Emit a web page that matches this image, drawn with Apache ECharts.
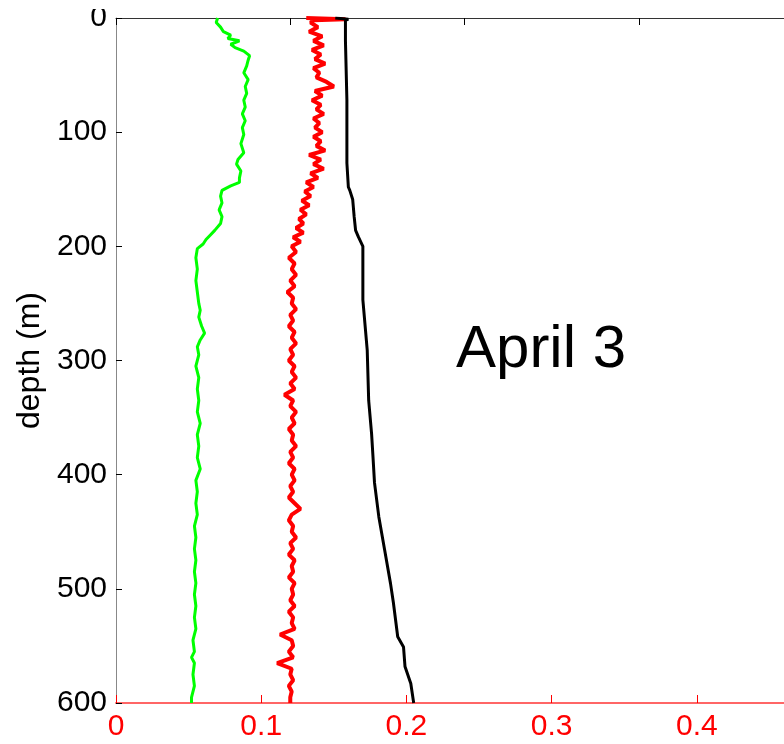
<!DOCTYPE html>
<html>
<head>
<meta charset="utf-8">
<script src="https://cdn.jsdelivr.net/npm/echarts@6/dist/echarts.min.js"></script>
<style>
html,body{margin:0;padding:0;background:#fff;}
#chart{width:784px;height:744px;}
</style>
</head>
<body>
<div id="chart"></div>
<script>
// Depth axis ticks
const depthTicks = [0, 100, 200, 300, 400, 500, 600];
const xTicks = [0, 0.1, 0.2, 0.3, 0.4];

// Green profile
const greenDepth = [0,4,8,12,15,18,20,23,26,29,33,37,42,48,54,60,66,72,78,84,90,96,102,110,118,124,128,134,140,144,147,151,156,162,168,174,180,186,190,194,198,202,210,220,230,240,250,256,262,270,276,282,288,295,305,315,325,335,345,355,365,375,385,395,405,415,425,435,445,455,465,475,485,495,505,515,525,535,545,555,560,565,575,585,595,600];
const greenVal = [0.070,0.069,0.072,0.074,0.079,0.077,0.085,0.079,0.082,0.088,0.092,0.091,0.090,0.088,0.091,0.089,0.090,0.088,0.089,0.087,0.089,0.087,0.088,0.086,0.088,0.084,0.083,0.086,0.085,0.085,0.079,0.073,0.072,0.073,0.071,0.073,0.072,0.068,0.065,0.062,0.060,0.056,0.055,0.056,0.055,0.056,0.057,0.058,0.057,0.059,0.061,0.058,0.056,0.057,0.055,0.057,0.056,0.057,0.056,0.058,0.056,0.057,0.056,0.058,0.055,0.056,0.055,0.056,0.054,0.055,0.054,0.055,0.054,0.055,0.054,0.055,0.054,0.055,0.053,0.054,0.052,0.054,0.053,0.054,0.052,0.052];

// Red profile
const redDepth = [0,1,2,4,8,12,16,20,24,28,32,36,40,44,48,52,56,60,64,68,72,76,80,84,88,92,96,100,104,108,112,116,120,124,128,132,136,140,144,148,152,156,160,164,168,172,176,180,184,188,192,196,200,
205,210,215,220,225,230,235,240,245,250,255,260,265,270,275,280,285,290,295,300,305,310,315,320,325,330,335,340,345,350,355,360,365,370,375,380,385,390,395,400,405,410,415,420,425,430,435,440,445,450,455,460,465,470,475,480,485,490,495,500,505,510,515,520,525,530,535,540,545,550,555,560,565,570,575,580,585,590,595,600];
const redVal = [0.131,0.158,0.136,0.134,0.139,0.133,0.142,0.136,0.143,0.135,0.141,0.137,0.144,0.136,0.140,0.138,0.145,0.150,0.137,0.142,0.135,0.141,0.138,0.143,0.136,0.140,0.137,0.142,0.136,0.141,0.138,0.144,0.133,0.141,0.136,0.143,0.134,0.139,0.131,0.136,0.130,0.134,0.128,0.133,0.127,0.131,0.126,0.129,0.124,0.129,0.122,0.127,0.121,
0.124,0.119,0.123,0.121,0.124,0.120,0.123,0.118,0.122,0.121,0.124,0.120,0.122,0.119,0.123,0.121,0.124,0.120,0.122,0.119,0.123,0.121,0.124,0.120,0.123,0.116,0.122,0.120,0.124,0.121,0.123,0.119,0.122,0.121,0.124,0.120,0.122,0.119,0.123,0.121,0.123,0.120,0.122,0.119,0.123,0.127,0.121,0.119,0.122,0.121,0.124,0.120,0.122,0.119,0.123,0.121,0.122,0.119,0.123,0.121,0.122,0.120,0.123,0.119,0.122,0.121,0.123,0.113,0.121,0.122,0.119,0.122,0.111,0.121,0.120,0.122,0.119,0.121,0.120,0.120];

// Black profile
const blackDepth = [0,1,2,20,72,127,148,151,159,174,186,192,200,247,291,335,364,385,407,437,466,495,512,542,551,568,583,600];
const blackVal = [0.151,0.160,0.158,0.158,0.159,0.159,0.160,0.161,0.163,0.164,0.165,0.167,0.170,0.170,0.173,0.174,0.176,0.177,0.178,0.181,0.185,0.189,0.191,0.194,0.198,0.199,0.203,0.205];

const annotation = 'April 3';
const yName = 'depth (m)';

function pairs(xs, ds){ return xs.map((v,i)=>[v, ds[i]]); }

const chart = echarts.init(document.getElementById('chart'), null, {renderer:'canvas'});
const FONT = 'Liberation Sans, Arial, Helvetica, sans-serif';
chart.setOption({
  animation:false,
  backgroundColor:'#fff',
  grid:{left:116, right:0, top:18, bottom:41, containLabel:false, outerBoundsMode:'none'},
  xAxis:[{
    type:'value', min:0, max:0.46, interval:0.1, position:'bottom',
    axisLine:{show:true, onZero:false, lineStyle:{color:'#ff6666', width:2}},
    axisTick:{show:true, inside:true, length:8, lineStyle:{color:'#ff0000', width:1}},
    axisLabel:{color:'#ff0000', fontSize:30, fontFamily:FONT, margin:9, hideOverlap:false,
      formatter:function(v){ return xTicks.some(t=>Math.abs(t-v)<1e-9) ? String(v) : ''; }},
    splitLine:{show:false}
  },{
    type:'value', min:0, max:0.46, interval:0.12, position:'top',
    axisLine:{show:true, onZero:false, lineStyle:{color:'#333', width:1}},
    axisTick:{show:true, inside:true, length:7, lineStyle:{color:'#000', width:1}},
    axisLabel:{show:false}, splitLine:{show:false}
  }],
  yAxis:{
    type:'value', inverse:true, min:0, max:600, interval:100,
    name:yName, nameLocation:'middle', nameGap:70, nameRotate:90,
    nameTextStyle:{color:'#000', fontSize:32, fontFamily:FONT},
    axisLine:{show:true, onZero:false, lineStyle:{color:'#888', width:1}},
    axisTick:{show:true, inside:true, length:6, lineStyle:{color:'#000'}},
    axisLabel:{color:'#000', fontSize:30, fontFamily:FONT, margin:9, hideOverlap:false,
      formatter:function(v){ return depthTicks.indexOf(v)>=0 ? String(v) : ''; }},
    splitLine:{show:false}
  },
  series:[
    {type:'line', data:pairs(greenVal, greenDepth), showSymbol:false, lineStyle:{color:'#00ff00', width:3}, z:3},
    {type:'line', data:pairs(redVal, redDepth), showSymbol:false, lineStyle:{color:'#ff0000', width:4}, z:3},
    {type:'line', data:pairs(blackVal, blackDepth), showSymbol:false, lineStyle:{color:'#000000', width:3}, z:4}
  ],
  graphic:[{
    type:'text', left:456, top:320,
    style:{text:annotation, fill:'#000', font:'60px ' + FONT}
  },{
    type:'rect', left:50, top:0, z:100,
    shape:{width:62, height:9}, style:{fill:'#fff'}
  }]
});
</script>
</body>
</html>
